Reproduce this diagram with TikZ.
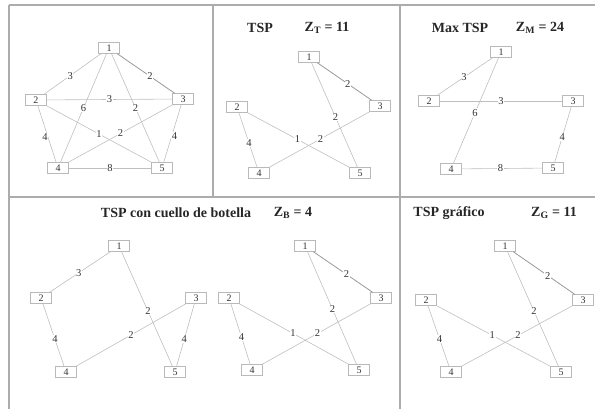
\documentclass[tikz,border=0pt]{standalone}
\usepackage{fontspec}
\setmainfont{Liberation Serif}
\tikzset{
  city/.style={
    draw=gray!55, rectangle, minimum width=21pt, minimum height=11pt,
    inner sep=0pt, text=black!80, font=\fontsize{10}{11}\selectfont
  },
  road/.style={draw=gray!50, line width=0.6pt},
  road dark/.style={draw=gray!80, line width=0.8pt},
  cost/.style={
    fill=white, inner sep=0.6pt, text=black!80,
    font=\fontsize{10.5}{12}\selectfont
  },
  frame line/.style={draw=gray!65, line width=1.3pt},
  heading/.style={text=black!85, font=\fontsize{14}{16}\selectfont\bfseries},
}

\begin{document}
\begin{tikzpicture}[x=1pt, y=-1pt]
  \useasboundingbox (0,0) rectangle (595,409);

  % panel frame
  \draw[frame line] (9,5) -- (595,5);
  \draw[frame line] (9,5) -- (9,409);
  \draw[frame line] (9,197) -- (595,197);
  \draw[frame line] (213,5) -- (213,197);
  \draw[frame line] (400,5) -- (400,409);

  % complete graph
  \node[city] (a1) at (109,48) {1};
  \node[city] (a2) at (36,100) {2};
  \node[city] (a3) at (183,99) {3};
  \node[city] (a4) at (58,168) {4};
  \node[city] (a5) at (162,168) {5};
  \draw[road] (a1) -- node[cost, pos=0.54] {3} (a2);
  \draw[road dark] (a1) -- node[cost, pos=0.57] {2} (a3);
  \draw[road] (a2) -- node[cost] {3} (a3);
  \draw[road] (a1) -- node[cost] {6} (a4);
  \draw[road] (a1) -- node[cost] {2} (a5);
  \draw[road] (a2) -- node[cost] {1} (a5);
  \draw[road] (a3) -- node[cost] {2} (a4);
  \draw[road] (a2) -- node[cost, pos=0.55, xshift=-3pt] {4} (a4);
  \draw[road] (a3) -- node[cost, pos=0.55, xshift=3pt] {4} (a5);
  \draw[road] (a4) -- node[cost] {8} (a5);

  % TSP
  \node[heading] (tname) at (260,28) {TSP};
  \node[heading] (tval) at (327,28) {Z\textsubscript{T} = 11};
  \node[city] (t1) at (309,57) {1};
  \node[city] (t2) at (237,107) {2};
  \node[city] (t3) at (380,106) {3};
  \node[city] (t4) at (259,173) {4};
  \node[city] (t5) at (360,173) {5};
  \draw[road dark] (t1) -- node[cost, pos=0.56] {2} (t3);
  \draw[road] (t1) -- node[cost, pos=0.52] {2} (t5);
  \draw[road] (t2) -- node[cost, pos=0.49] {1} (t5);
  \draw[road] (t3) -- node[cost, pos=0.49] {2} (t4);
  \draw[road] (t2) -- node[cost, pos=0.55] {4} (t4);

  % Max TSP
  \node[heading] (mname) at (460,28) {Max TSP};
  \node[heading] (mval) at (540,28) {Z\textsubscript{M} = 24};
  \node[city] (m1) at (501,52) {1};
  \node[city] (m2) at (429,101) {2};
  \node[city] (m3) at (573,101) {3};
  \node[city] (m4) at (451,169) {4};
  \node[city] (m5) at (553,168) {5};
  \draw[road] (m1) -- node[cost, pos=0.52] {3} (m2);
  \draw[road] (m2) -- node[cost] {3} (m3);
  \draw[road] (m1) -- node[cost, pos=0.52] {6} (m4);
  \draw[road] (m3) -- node[cost, pos=0.55] {4} (m5);
  \draw[road] (m4) -- node[cost, pos=0.48] {8} (m5);

  % TSP with bottleneck
  \node[heading] (bname) at (176,213) {TSP con cuello de botella};
  \node[heading] (bval) at (293,213) {Z\textsubscript{B} = 4};
  \node[city] (b1) at (119,246) {1};
  \node[city] (b2) at (41,298) {2};
  \node[city] (b3) at (196,298) {3};
  \node[city] (b4) at (66,372) {4};
  \node[city] (b5) at (175,372) {5};
  \draw[road] (b1) -- node[cost, pos=0.52] {3} (b2);
  \draw[road] (b1) -- node[cost, pos=0.52] {2} (b5);
  \draw[road] (b3) -- node[cost, pos=0.5] {2} (b4);
  \draw[road] (b2) -- node[cost, pos=0.57] {4} (b4);
  \draw[road] (b3) -- node[cost, pos=0.57] {4} (b5);

  \node[city] (c1) at (305,246) {1};
  \node[city] (c2) at (229,298) {2};
  \node[city] (c3) at (381,298) {3};
  \node[city] (c4) at (252,370) {4};
  \node[city] (c5) at (359,370) {5};
  \draw[road dark] (c1) -- node[cost, pos=0.56] {2} (c3);
  \draw[road] (c1) -- node[cost, pos=0.51] {2} (c5);
  \draw[road] (c2) -- node[cost, pos=0.49] {1} (c5);
  \draw[road] (c3) -- node[cost, pos=0.49] {2} (c4);
  \draw[road] (c2) -- node[cost, pos=0.55] {4} (c4);

  % graphic TSP
  \node[heading] (gname) at (449,213) {TSP gráfico};
  \node[heading] (gval) at (554,213) {Z\textsubscript{G} = 11};
  \node[city] (g1) at (505,246) {1};
  \node[city] (g2) at (426,300) {2};
  \node[city] (g3) at (583,300) {3};
  \node[city] (g4) at (451,372) {4};
  \node[city] (g5) at (561,372) {5};
  \draw[road dark] (g1) -- node[cost, pos=0.56] {2} (g3);
  \draw[road] (g1) -- node[cost, pos=0.52] {2} (g5);
  \draw[road] (g2) -- node[cost, pos=0.49] {1} (g5);
  \draw[road] (g3) -- node[cost, pos=0.49] {2} (g4);
  \draw[road] (g2) -- node[cost, pos=0.55] {4} (g4);

\end{tikzpicture}
\end{document}
